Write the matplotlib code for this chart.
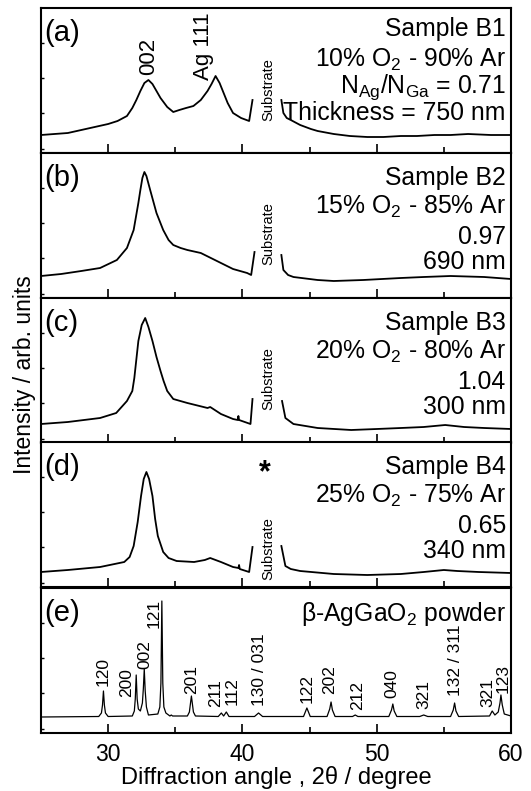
import matplotlib
matplotlib.use("Agg")
import matplotlib.pyplot as plt

plt.rcParams['font.family'] = ['Liberation Sans', 'DejaVu Sans']
plt.rcParams['mathtext.default'] = 'regular'

# ---------------- data (intensity in arbitrary units) ----------------
# Panel (a) Sample B1
a_x1 = [25, 26, 27, 28, 29, 30, 30.7, 31.4, 31.8, 32.1, 32.4, 32.7, 33.0, 33.3, 33.6, 33.9,
        34.4, 34.85, 35.3, 35.8, 36.35, 36.9, 37.4, 37.7, 38.0, 38.3, 38.6, 38.9, 39.3, 39.9,
        40.5, 40.75]
a_y1 = [18, 19, 20, 23, 26, 29, 32, 37, 45, 53, 62, 70, 73, 69, 62, 55,
        46, 41, 43, 45, 47, 53, 62, 69, 77, 70, 60, 50, 40, 35,
        32, 53]
a_x2 = [42.9, 43.05, 43.3, 43.6, 44.3, 45.1, 45.6, 46.8, 48, 49.3, 50.5, 51.8, 53, 54.3,
        55.5, 56.8, 58.5, 60]
a_y2 = [53, 40, 35, 33, 28, 24, 22, 19, 17, 16, 16, 17, 17, 18,
        18, 19, 18, 18]

# Panel (b) Sample B2
b_x1 = [25, 26.5, 28, 29.4, 30.65, 31.4, 31.9, 32.25, 32.4, 32.55, 32.7, 32.85, 33.13, 33.6,
        34.1, 34.5, 34.85, 35.4, 35.9, 36.9, 37.5, 38.4, 39.3, 40.35, 40.65, 40.9]
b_y1 = [22, 24, 27, 30, 38, 50, 68, 95, 108, 120, 126, 122, 108, 85,
        68, 58, 53, 50, 48, 45, 41, 35, 29, 25, 23, 46]
b_x2 = [42.9, 43.05, 43.4, 43.8, 45.6, 46.8, 49, 51.8, 53.5, 55.5, 58, 60]
b_y2 = [43, 28, 23, 21, 18, 17, 18, 20, 21, 22, 21, 19]

# Panel (c) Sample B3
c_x1 = [25, 27, 29.4, 30.6, 31.4, 31.8, 31.95, 32.25, 32.5, 32.76, 33.0, 33.3, 33.6, 33.9,
        34.13, 34.4, 34.85, 35.9, 37.4, 37.6, 38.4, 39.3, 39.65, 39.7, 39.75, 40.6, 40.75]
c_y1 = [19, 21, 25, 30, 42, 52, 65, 102, 118, 125, 116, 102, 86, 72,
        62, 52, 44, 40, 35, 36, 29, 24, 23, 27, 23, 19, 44]
c_x2 = [42.95, 43.2, 43.8, 45.6, 48.1, 50, 51.8, 53.5, 55.1, 56.5, 58, 60]
c_y2 = [42, 25, 19, 15, 13, 14, 15, 16, 18, 16, 15, 14]

# Panel (d) Sample B4
d_x1 = [25, 27, 29.4, 31.2, 31.6, 31.9, 32.2, 32.45, 32.65, 32.85, 33.05, 33.3, 33.5, 33.7,
        34.1, 34.5, 35.1, 36.4, 37.2, 37.6, 38.0, 38.4, 39.3, 39.7, 39.75, 39.8, 40.5, 40.75]
d_y1 = [15, 17, 20, 25, 30, 41, 65, 91, 108, 115, 108, 91, 68, 51,
        35, 29, 26, 25, 27, 29, 27, 25, 20, 19, 22, 18, 15, 40]
d_x2 = [42.9, 43.2, 43.6, 44.3, 46.8, 49.3, 51.8, 53.5, 55.0, 56, 57.6, 60]
d_y2 = [41, 21, 18, 16, 13, 12, 13, 15, 17, 16, 15, 14]

# Panel (e) beta-AgGaO2 powder reference pattern
e_x = [25, 29.3, 29.5, 29.58, 29.65, 29.72, 29.8, 30.0,
       31.8, 31.95, 32.02, 32.09, 32.16, 32.25, 32.4, 32.55, 32.62, 32.69, 32.76, 32.85, 33.0,
       33.7, 33.85, 33.93, 34.0, 34.07, 34.15, 34.3, 34.6, 34.7, 34.8,
       35.9, 36.05, 36.2, 36.35, 36.5,
       38.2, 38.43, 38.6, 38.8, 39.0,
       40.9, 41.2, 41.5,
       44.55, 44.8, 45.05,
       46.3, 46.5, 46.6, 46.7, 46.9,
       48.2, 48.4, 48.6,
       50.9, 51.1, 51.2, 51.3, 51.5,
       53.2, 53.5, 53.8,
       55.5, 55.7, 55.8, 55.9, 56.1,
       58.4, 58.6, 58.8, 59.05, 59.18, 59.25, 59.35, 59.5, 60]
e_y = [16, 16.5, 20, 28, 42, 28, 20, 16.5,
       17, 22, 34, 58, 34, 24, 22, 30, 44, 64, 42, 26, 18,
       19, 26, 50, 132, 50, 26, 20, 17, 18, 17,
       17, 21, 37, 21, 17,
       16.5, 20, 17, 21, 16.5,
       16.5, 20, 16.5,
       16.5, 25, 16.5,
       16.5, 24, 31, 23, 16.5,
       16.5, 18, 16.5,
       16.5, 23, 29, 22, 16.5,
       16.5, 18, 16.5,
       16.5, 23, 30, 22, 16.5,
       17, 22, 18, 21, 30, 38, 28, 19, 17]

# peak labels for (e): label, x position, label bottom
e_lab = ['120', '200', '002', '121', '201', '211', '112', '130 / 031', '122', '202',
         '212', '040', '321', '132 / 311', '321', '123']
e_lab_x = [29.65, 31.4, 32.75, 33.4, 36.25, 38.0, 39.2, 41.3, 44.8, 46.5,
           48.55, 51.1, 53.5, 55.9, 58.3, 59.45]
e_lab_y = [47, 36, 64, 105, 39, 26, 28, 27, 30, 39,
           23, 35, 24, 37, 26, 40]

panel_tags = ['(a)', '(b)', '(c)', '(d)', '(e)']
sample_lines = [
    ['Sample B1', '10% O$_2$ - 90% Ar', 'N$_{Ag}$/N$_{Ga}$ = 0.71', 'Thickness = 750 nm'],
    ['Sample B2', '15% O$_2$ - 85% Ar', '0.97', '690 nm'],
    ['Sample B3', '20% O$_2$ - 80% Ar', '1.04', '300 nm'],
    ['Sample B4', '25% O$_2$ - 75% Ar', '0.65', '340 nm'],
]
substrate_y = [63, 64, 64, 38]

series = [(a_x1, a_y1, a_x2, a_y2), (b_x1, b_y1, b_x2, b_y2),
          (c_x1, c_y1, c_x2, c_y2), (d_x1, d_y1, d_x2, d_y2)]

# ---------------- figure ----------------
W, H = 531, 791
fig = plt.figure(figsize=(W / 100, H / 100), dpi=100)
left_px, right_px = 41, 511
tops = [8, 153, 298, 442, 588]
ph = 145

axes = []
for i, t in enumerate(tops):
    ax = fig.add_axes([left_px / W, 1 - (t + ph) / H, (right_px - left_px) / W, ph / H])
    ax.set_xlim(25, 60)
    ax.set_ylim(0, 145)
    for s in ax.spines.values():
        s.set_linewidth(1.5)
    ax.set_xticks([30, 40, 50, 60])
    ax.set_xticks([25, 35, 45, 55], minor=True)
    ax.set_yticks([4, 40, 75, 110])
    ax.tick_params(axis='x', which='major', direction='in', length=6.5, width=1.2,
                   labelsize=16.5, pad=7)
    ax.tick_params(axis='x', which='minor', direction='in', length=4.5, width=1.2)
    ax.tick_params(axis='y', direction='in', length=2.5, width=1.0, labelleft=False)
    if i < 4:
        ax.tick_params(axis='x', which='both', labelbottom=False)
    ax.text(0.006, 1 - 33 / ph, panel_tags[i], transform=ax.transAxes, fontsize=21,
            ha='left', va='baseline')
    axes.append(ax)

# panels a-d
for i in range(4):
    ax = axes[i]
    x1, y1, x2, y2 = series[i]
    ax.plot(x1, y1, color='black', lw=1.3)
    ax.plot(x2, y2, color='black', lw=1.3)
    if i == 0:
        base = [28, 59, 85, 112]
    else:
        base = [32, 61, 91, 116]
    for line, b in zip(sample_lines[i], base):
        ax.text(0.989, 1 - b / ph, line, transform=ax.transAxes, fontsize=17.8,
                ha='right', va='baseline')
    ax.text(41.9, substrate_y[i], 'Substrate', rotation=90, fontsize=10.5,
            ha='center', va='center')

axes[0].text(33.0, 78, '002', rotation=90, fontsize=16, ha='center', va='bottom')
axes[0].text(37.1, 73, 'Ag 111', rotation=90, fontsize=16, ha='center', va='bottom')
axes[3].text(41.7, 114, '*', fontsize=22, fontweight='bold', ha='center', va='center')

# panel e
ax = axes[4]
ax.plot(e_x, e_y, color='black', lw=0.9)
for lab, lx, ly in zip(e_lab, e_lab_x, e_lab_y):
    ax.text(lx, ly, lab, rotation=90, fontsize=12.5, ha='center', va='bottom')
ax.text(0.989, 1 - 33 / ph, 'β-AgGaO$_2$ powder', transform=ax.transAxes, fontsize=17.8,
        ha='right', va='baseline')
ax.set_xlabel('Diffraction angle , 2θ / degree', fontsize=17, labelpad=0)

fig.text(25 / W, 1 - 375 / H, 'Intensity / arb. units', rotation=90, fontsize=16.5,
         ha='center', va='center')

fig.savefig('out.png', dpi=100)
